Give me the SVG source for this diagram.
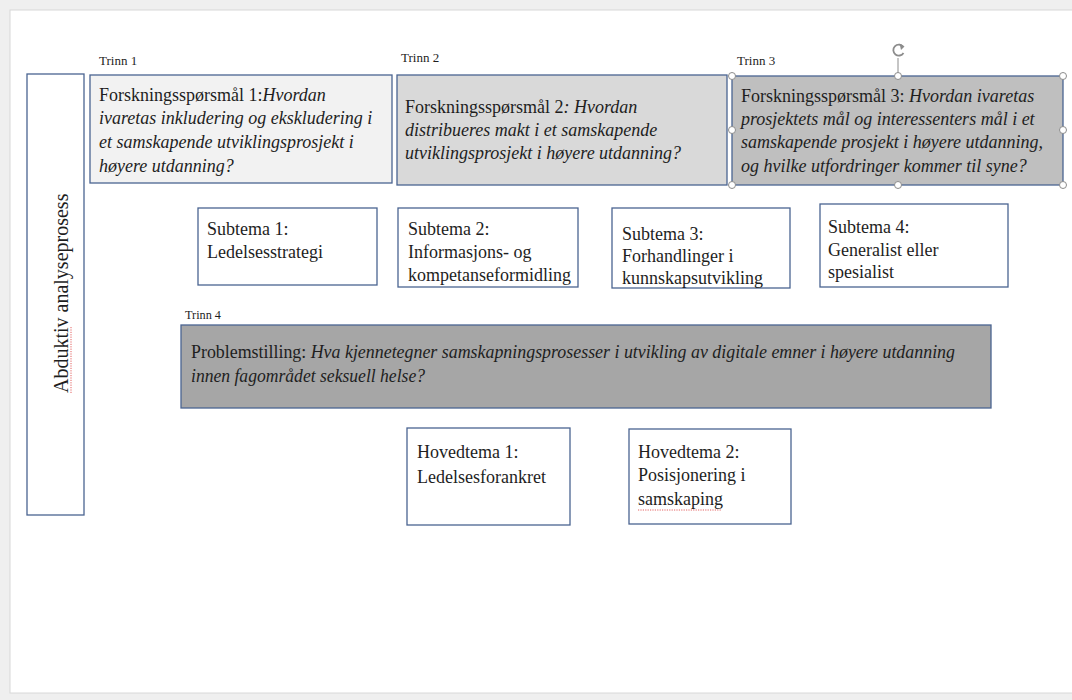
<svg xmlns="http://www.w3.org/2000/svg" width="1072" height="700" viewBox="0 0 1072 700">
<style>
.box{stroke:#4a6491;stroke-width:1.3}
.t{font-family:"Liberation Serif","Times New Roman",serif;font-size:18px;fill:#1e1e1e}
.v{font-size:20px}
.p{font-size:19px}
.i{font-style:italic}
.lbl{font-family:"Liberation Serif","Times New Roman",serif;font-size:13px;fill:#1e1e1e}
.h{fill:#fff;stroke:#8c8c8c;stroke-width:1}
.sq{fill:none;stroke:#e05050;stroke-width:0.9;stroke-dasharray:1.2 1.2}
</style>
<rect x="0" y="0" width="1072" height="700" fill="#efefef"/>
<rect x="10" y="10" width="1070" height="683" fill="#fff" stroke="#d8d8d8" stroke-width="1"/>

<g id="abduktiv">
<rect class="box" x="27" y="74" width="57" height="441" fill="#fff"/>
<text class="t v" transform="translate(68,393) rotate(-90)">Abduktiv analyseprosess</text>
<path class="sq" d="M71,393 L71,326"/>
</g>

<g id="trinn1">
<text class="lbl" x="99" y="65">Trinn 1</text>
<rect class="box" x="90" y="75" width="302" height="108" fill="#f2f2f2"/>
<text class="t" x="99" y="101">Forskningsspørsmål 1:<tspan class="i">Hvordan</tspan></text>
<text class="t i" x="99" y="124">ivaretas inkludering og ekskludering i</text>
<text class="t i" x="99" y="148">et samskapende utviklingsprosjekt i</text>
<text class="t i" x="99" y="172">høyere utdanning?</text>
</g>

<g id="trinn2">
<text class="lbl" x="401" y="62">Trinn 2</text>
<rect class="box" x="397" y="75" width="330" height="110" fill="#d9d9d9"/>
<text class="t" x="405" y="113">Forskningsspørsmål 2<tspan class="i">: Hvordan</tspan></text>
<text class="t i" x="405" y="136">distribueres makt i et samskapende</text>
<text class="t i" x="405" y="159">utviklingsprosjekt i høyere utdanning?</text>
</g>

<g id="trinn3">
<text class="lbl" x="737" y="65">Trinn 3</text>
<rect class="box" x="732" y="76" width="331" height="109" fill="#bfbfbf"/>
<text class="t" x="741" y="102">Forskningsspørsmål 3: <tspan class="i">Hvordan ivaretas</tspan></text>
<text class="t i" x="741" y="125">prosjektets mål og interessenters mål i et</text>
<text class="t i" x="741" y="148">samskapende prosjekt i høyere utdanning,</text>
<text class="t i" x="741" y="172">og hvilke utfordringer kommer til syne?</text>
<line x1="898" y1="76" x2="898" y2="58" stroke="#8c8c8c" stroke-width="1"/>
<path d="M903,46.5 A5.5,5.5 0 1 0 903.5,53" fill="none" stroke="#8c8c8c" stroke-width="1.8"/>
<path d="M899.5,43.5 L904.5,46.5 L901,50 Z" fill="#8c8c8c"/>
<circle class="h" cx="732" cy="76" r="3.5"/>
<circle class="h" cx="898" cy="76" r="3.5"/>
<circle class="h" cx="1063" cy="76" r="3.5"/>
<circle class="h" cx="732" cy="130" r="3.5"/>
<circle class="h" cx="1063" cy="130" r="3.5"/>
<circle class="h" cx="732" cy="185" r="3.5"/>
<circle class="h" cx="898" cy="185" r="3.5"/>
<circle class="h" cx="1063" cy="185" r="3.5"/>
</g>

<g id="subtema1">
<rect class="box" x="198" y="208" width="179" height="77" fill="#fff"/>
<text class="t" x="207" y="235">Subtema 1:</text>
<text class="t" x="207" y="258">Ledelsesstrategi</text>
</g>
<g id="subtema2">
<rect class="box" x="398" y="208" width="180" height="79" fill="#fff"/>
<text class="t" x="408" y="235">Subtema 2:</text>
<text class="t" x="408" y="258">Informasjons- og</text>
<text class="t" x="408" y="281">kompetanseformidling</text>
</g>
<g id="subtema3">
<rect class="box" x="612" y="208" width="178" height="80" fill="#fff"/>
<text class="t" x="622" y="240">Subtema 3:</text>
<text class="t" x="622" y="262">Forhandlinger i</text>
<text class="t" x="622" y="284">kunnskapsutvikling</text>
</g>
<g id="subtema4">
<rect class="box" x="820" y="204" width="188" height="83" fill="#fff"/>
<text class="t" x="828" y="233">Subtema 4:</text>
<text class="t" x="828" y="256">Generalist eller</text>
<text class="t" x="828" y="278">spesialist</text>
</g>

<g id="trinn4">
<text class="lbl" x="185" y="319" textLength="36" lengthAdjust="spacingAndGlyphs">Trinn 4</text>
<rect class="box" x="181" y="325" width="810" height="83" fill="#a6a6a6"/>
<text class="t p" x="191" y="358" textLength="764" lengthAdjust="spacingAndGlyphs">Problemstilling: <tspan class="i">Hva kjennetegner samskapningsprosesser i utvikling av digitale emner i høyere utdanning</tspan></text>
<text class="t i p" x="191" y="382" textLength="234" lengthAdjust="spacingAndGlyphs">innen fagområdet seksuell helse?</text>
</g>

<g id="hovedtema1">
<rect class="box" x="407" y="428" width="163" height="97" fill="#fff"/>
<text class="t" x="417" y="458">Hovedtema 1:</text>
<text class="t" x="417" y="483">Ledelsesforankret</text>
</g>
<g id="hovedtema2">
<rect class="box" x="629" y="429" width="162" height="95" fill="#fff"/>
<text class="t" x="638" y="458">Hovedtema 2:</text>
<text class="t" x="638" y="481">Posisjonering i</text>
<text class="t" x="638" y="505">samskaping</text>
<path class="sq" d="M638,510 L722,510"/>
</g>

<g id="connectors"></g>
</svg>
